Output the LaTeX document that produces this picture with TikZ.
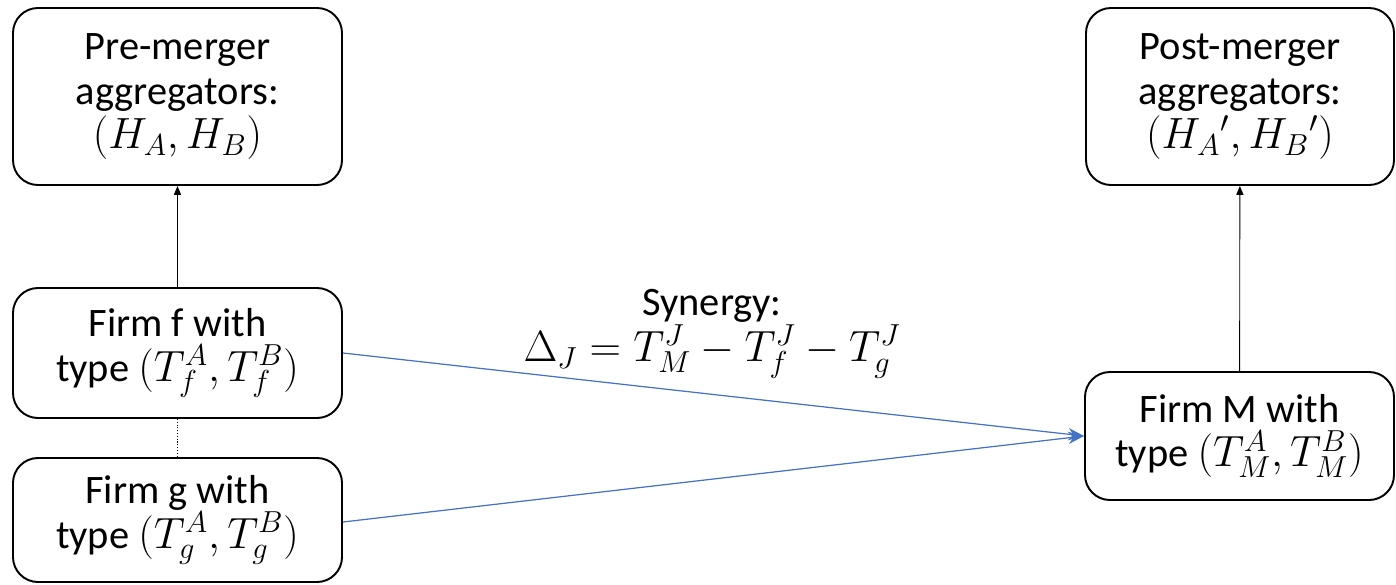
\documentclass[tikz,border=0pt]{standalone}
\usepackage{fontspec}
\setmainfont{Carlito}
\usetikzlibrary{arrows.meta}

\definecolor{linkblue}{HTML}{4472C4}
\tikzset{
    mg box/.style={draw=black, line width=1.1pt, rounded corners=0.5cm,
                   align=center, font=\fontsize{23}{25.5}\selectfont,
                   inner sep=0pt},
    mg up/.style={-{Triangle[length=5pt, width=4pt]}, line width=0.5pt},
    mg dots/.style={line width=0.6pt, densely dotted},
    mg link/.style={-{Stealth[length=9pt, width=7pt]}, linkblue, line width=0.7pt},
    mg lbl/.style={align=center, font=\fontsize{23}{26}\selectfont},
}

\begin{document}
\begin{tikzpicture}
    \useasboundingbox (0, 0) rectangle (27.92, 11.68);
    % Pre-merger side
    \node[mg box, minimum width=6.58cm, minimum height=3.54cm]
        (pre) at (3.55, 9.75) {Pre-merger\\ aggregators:\\ $(H_A, H_B)$};
    \node[mg box, minimum width=6.58cm, minimum height=2.6cm]
        (ff) at (3.55, 4.62) {Firm f with\\ type $(T_f^A, T_f^B)$};
    \node[mg box, minimum width=6.58cm, minimum height=2.48cm]
        (fg) at (3.55, 1.28) {Firm g with\\ type $(T_g^A, T_g^B)$};
    \draw[mg up] (ff) -- (pre);
    \draw[mg dots] (ff) -- (fg);
    % Post-merger side
    \node[mg box, minimum width=6.16cm, minimum height=3.54cm]
        (post) at (24.8, 9.75) {Post-merger\\ aggregators:\\ $(H_A{}', H_B{}')$};
    \node[mg box, minimum width=6.18cm, minimum height=2.56cm]
        (fm) at (24.79, 2.96) {Firm M with\\ type $(T_M^A, T_M^B)$};
    \draw[mg up] (fm) -- (post);
    % Merger
    \draw[mg link] (ff.east) -- (fm.west);
    \draw[mg link] ([yshift=-0.04cm]fg.east) -- (fm.west);
    \node[mg lbl] (syn) at (14.24, 5.0)
        {Synergy:\\ $\Delta_J = T_M^J - T_f^J - T_g^J$};
\end{tikzpicture}
\end{document}
